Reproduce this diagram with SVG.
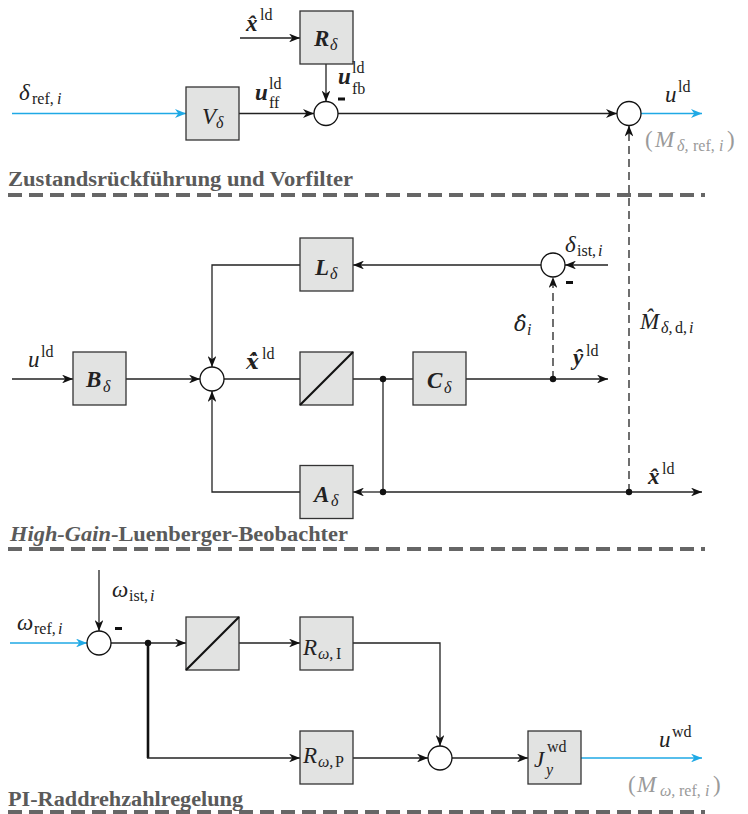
<svg xmlns="http://www.w3.org/2000/svg" width="748" height="814" viewBox="0 0 748 814">
<style>
.box{fill:#e2e3e2;stroke:#333;stroke-width:1.3}
.sum{fill:#fff;stroke:#111;stroke-width:1.3}
.w{fill:none;stroke:#222;stroke-width:1.3}
.a{marker-end:url(#ah)}
.bl{fill:none;stroke:#1fa9e5;stroke-width:1.3;marker-end:url(#ahb)}
.d{stroke-dasharray:8 5}
.diag{stroke:#111;stroke-width:2.2}
.dot{fill:#111}
.neg{fill:#111}
.m{font-family:"Liberation Serif",serif;fill:#222;font-size:23px}
.s{font-size:16px}
.it{font-style:italic}
.bi{font-style:italic;font-weight:bold}
.dj{font-family:"DejaVu Serif",serif;font-size:21px}
.g{fill:#9a9a9a}
.hdr{font-family:"Liberation Serif",serif;font-weight:bold;fill:#5a5a5a;font-size:20px}
.sep{stroke:#666;stroke-width:4;stroke-dasharray:14 7}
</style>
<defs>
<marker id="ah" viewBox="0 0 10 8" refX="10" refY="4" markerWidth="11" markerHeight="8.8" markerUnits="userSpaceOnUse" orient="auto"><path d="M0,0 L10,4 L0,8 L3,4 z" fill="#111"/></marker>
<marker id="ahb" viewBox="0 0 10 8" refX="10" refY="4" markerWidth="11" markerHeight="8.8" markerUnits="userSpaceOnUse" orient="auto"><path d="M0,0 L10,4 L0,8 L3,4 z" fill="#1fa9e5"/></marker>
</defs>

<!-- section separators and headers -->
<g id="sections">
<line class="sep" x1="8" y1="195" x2="705" y2="195"/>
<line class="sep" x1="8" y1="549" x2="705" y2="549"/>
<line class="sep" x1="8" y1="812" x2="705" y2="812"/>
<text class="hdr" x="8" y="186" textLength="345" lengthAdjust="spacingAndGlyphs">Zustandsrückführung und Vorfilter</text>
<text class="hdr" x="10" y="541" textLength="338" lengthAdjust="spacingAndGlyphs"><tspan font-style="italic">High-Gain</tspan>-Luenberger-Beobachter</text>
<text class="hdr" x="8" y="806" textLength="235" lengthAdjust="spacingAndGlyphs">PI-Raddrehzahlregelung</text>
</g>

<!-- connectors -->
<g id="connectors">
<!-- top -->
<line class="w a" x1="240" y1="38" x2="300" y2="38"/>
<line class="w a" x1="326" y1="64" x2="326" y2="101.5"/>
<line class="bl" x1="12" y1="113.5" x2="186" y2="113.5"/>
<line class="w a" x1="239" y1="113.5" x2="314" y2="113.5"/>
<line class="w a" x1="338" y1="113.5" x2="617" y2="113.5"/>
<line class="bl" x1="641" y1="113.5" x2="702" y2="113.5"/>
<line class="w a d" x1="629" y1="492" x2="629" y2="125.5"/>
<!-- middle -->
<line class="w a" x1="608" y1="265" x2="565" y2="265"/>
<line class="w a" x1="541" y1="265" x2="353" y2="265"/>
<polyline class="w a" points="300,265 212,265 212,367"/>
<line class="w a" x1="12" y1="379" x2="73" y2="379"/>
<line class="w a" x1="126" y1="379" x2="200" y2="379"/>
<line class="w" x1="224" y1="379" x2="300" y2="379"/>
<line class="w" x1="353" y1="379" x2="413" y2="379"/>
<line class="w a" x1="466" y1="379" x2="608" y2="379"/>
<line class="w a d" x1="553" y1="379" x2="553" y2="277"/>
<line class="w" x1="383" y1="379" x2="383" y2="492"/>
<line class="w a" x1="383" y1="492" x2="353" y2="492"/>
<line class="w a" x1="383" y1="492" x2="702" y2="492"/>
<polyline class="w a" points="300,492 212,492 212,391"/>
<!-- bottom -->
<line class="bl" x1="10" y1="643" x2="87" y2="643"/>
<line class="w a" x1="99" y1="570" x2="99" y2="631"/>
<line class="w a" x1="111" y1="643" x2="186" y2="643"/>
<line class="w a" x1="239" y1="643" x2="300" y2="643"/>
<polyline class="w a" points="353,643 440,643 440,746"/>
<line x1="148" y1="643" x2="148" y2="758" stroke="#111" stroke-width="2.6"/>
<line class="w a" x1="147" y1="758" x2="300" y2="758"/>
<line class="w a" x1="353" y1="758" x2="428" y2="758"/>
<line class="w a" x1="452" y1="758" x2="528" y2="758"/>
<line class="bl" x1="581" y1="758" x2="702" y2="758"/>
<!-- junction dots -->
<circle class="dot" cx="383" cy="379" r="3.2"/>
<circle class="dot" cx="553" cy="379" r="3.2"/>
<circle class="dot" cx="383" cy="492" r="3.2"/>
<circle class="dot" cx="629" cy="492" r="3.2"/>
<circle class="dot" cx="148" cy="643" r="3.2"/>
</g>

<!-- nodes -->
<g id="R_delta"><rect class="box" x="300" y="11" width="53" height="53"/>
<text class="m"><tspan class="bi" x="314" y="46">R</tspan><tspan class="it s" x="330" y="50">δ</tspan></text></g>
<g id="V_delta"><rect class="box" x="186" y="87" width="53" height="53"/>
<text class="m"><tspan class="it" x="202" y="124">V</tspan><tspan class="it s" x="216" y="128">δ</tspan></text></g>
<g id="sum1"><circle class="sum" cx="326" cy="113.5" r="12"/><rect class="neg" x="338" y="97.5" width="7" height="3"/></g>
<g id="sum2"><circle class="sum" cx="629" cy="113.5" r="12"/></g>

<g id="L_delta"><rect class="box" x="300" y="238" width="53" height="53"/>
<text class="m"><tspan class="bi" x="315" y="275">L</tspan><tspan class="it s" x="330" y="279">δ</tspan></text></g>
<g id="sum3"><circle class="sum" cx="553" cy="265" r="12"/><rect class="neg" x="566" y="281" width="7" height="3"/></g>
<g id="sum4"><circle class="sum" cx="212" cy="379" r="12"/></g>
<g id="B_delta"><rect class="box" x="73" y="352" width="53" height="53"/>
<text class="m"><tspan class="bi" x="86" y="387">B</tspan><tspan class="it s" x="103" y="392">δ</tspan></text></g>
<g id="integrator1"><rect class="box" x="300" y="352" width="53" height="53"/><line class="diag" x1="300" y1="405" x2="353" y2="352"/></g>
<g id="C_delta"><rect class="box" x="413" y="352" width="53" height="53"/>
<text class="m"><tspan class="bi" x="427" y="388">C</tspan><tspan class="it s" x="444" y="393">δ</tspan></text></g>
<g id="A_delta"><rect class="box" x="300" y="465.5" width="53" height="53"/>
<text class="m"><tspan class="bi" x="314" y="502">A</tspan><tspan class="it s" x="331" y="506">δ</tspan></text></g>

<g id="sum5"><circle class="sum" cx="99" cy="643" r="12"/><rect class="neg" x="115" y="627" width="7" height="3"/></g>
<g id="integrator2"><rect class="box" x="186" y="617" width="53" height="53"/><line class="diag" x1="186" y1="670" x2="239" y2="617"/></g>
<g id="R_wI"><rect class="box" x="300" y="617" width="53" height="53"/>
<text class="m"><tspan class="it" x="303" y="655">R</tspan><tspan class="it s" x="318" y="659">ω,</tspan><tspan class="s" x="336" y="659">I</tspan></text></g>
<g id="R_wP"><rect class="box" x="300" y="731" width="53" height="53"/>
<text class="m"><tspan class="it" x="303" y="763">R</tspan><tspan class="it s" x="318" y="767">ω,</tspan><tspan class="s" x="335" y="767">P</tspan></text></g>
<g id="sum6"><circle class="sum" cx="440" cy="758" r="12"/></g>
<g id="J"><rect class="box" x="528" y="731" width="53" height="53"/>
<text class="m"><tspan class="it" x="534" y="767">J</tspan><tspan class="s" x="547" y="752">wd</tspan><tspan class="it s" x="546" y="775">y</tspan></text></g>

<!-- signal labels -->
<g id="labels">
<text class="m"><tspan class="bi" x="246" y="31">x̂</tspan><tspan class="s" x="260" y="20">ld</tspan></text>
<text class="m"><tspan class="it" x="19" y="100">δ</tspan><tspan class="s" x="32" y="104">ref,</tspan><tspan class="it s" x="57" y="104">i</tspan></text>
<text class="m"><tspan class="bi" x="255" y="100">u</tspan><tspan class="s" x="269" y="89">ld</tspan><tspan class="s" x="269" y="108">ff</tspan></text>
<text class="m"><tspan class="bi" x="338" y="84">u</tspan><tspan class="s" x="352" y="73">ld</tspan><tspan class="s" x="352" y="94">fb</tspan></text>
<text class="m"><tspan class="it" x="665" y="102">u</tspan><tspan class="s" x="678" y="92">ld</tspan></text>
<text class="m g"><tspan x="645" y="147">(</tspan><tspan class="it" x="655" y="147">M</tspan><tspan class="it s" x="677" y="151">δ,</tspan><tspan class="s" x="693" y="151">ref,</tspan><tspan class="it s" x="719" y="151">i</tspan><tspan x="727" y="147">)</tspan></text>

<text class="m"><tspan class="it" x="565" y="252">δ</tspan><tspan class="s" x="577" y="256">ist,</tspan><tspan class="it s" x="598" y="256">i</tspan></text>
<text class="m"><tspan class="it dj" x="514" y="331">δ̂</tspan><tspan class="it s" x="527" y="335">i</tspan></text>
<text class="m"><tspan class="it" x="640" y="329">M̂</tspan><tspan class="it s" x="661" y="333">δ,</tspan><tspan class="s" x="675" y="333">d,</tspan><tspan class="it s" x="689" y="333">i</tspan></text>
<text class="m"><tspan class="it" x="28" y="367">u</tspan><tspan class="s" x="41" y="357">ld</tspan></text>
<text class="m"><tspan class="bi dj" x="246" y="369">ẋ̂</tspan><tspan class="s" x="262" y="359">ld</tspan></text>
<text class="m"><tspan class="bi" x="573" y="365">ŷ</tspan><tspan class="s" x="586" y="356">ld</tspan></text>
<text class="m"><tspan class="bi" x="648" y="484">x̂</tspan><tspan class="s" x="662" y="474">ld</tspan></text>

<text class="m"><tspan class="it" x="112" y="597">ω</tspan><tspan class="s" x="129" y="601">ist,</tspan><tspan class="it s" x="150" y="601">i</tspan></text>
<text class="m"><tspan class="it" x="17" y="630">ω</tspan><tspan class="s" x="34" y="634">ref,</tspan><tspan class="it s" x="58" y="634">i</tspan></text>
<text class="m"><tspan class="it" x="659" y="747">u</tspan><tspan class="s" x="672" y="737">wd</tspan></text>
<text class="m g"><tspan x="628" y="792">(</tspan><tspan class="it" x="637" y="792">M</tspan><tspan class="it s" x="660" y="796">ω,</tspan><tspan class="s" x="679" y="796">ref,</tspan><tspan class="it s" x="705" y="796">i</tspan><tspan x="713" y="792">)</tspan></text>
</g>
</svg>
